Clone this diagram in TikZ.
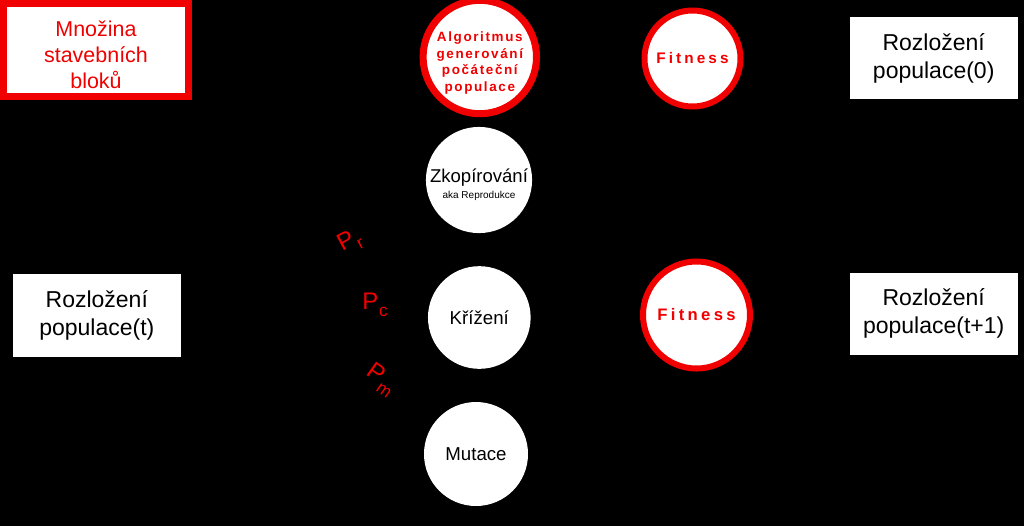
\documentclass[tikz,border=0pt]{standalone}
\usepackage{fontspec}
\setmainfont{Liberation Sans}
\newfontfamily\algfont[LetterSpace=12]{Liberation Sans}
\newfontfamily\fitfont[LetterSpace=20]{Liberation Sans}
\definecolor{myred}{RGB}{240,0,0}
\tikzset{
  redbox/.style={draw=myred, line width=5.25pt, fill=white, inner sep=0pt,
    minimum width=138.75pt, minimum height=69.75pt, text=myred, align=center,
    font=\fontsize{16.1}{19.5}\selectfont},
  popbox/.style={fill=white, inner sep=0pt, minimum width=126pt,
    minimum height=61.5pt, align=center, font=\fontsize{17.25}{21.5}\selectfont},
  wcirc/.style={circle, fill=white, inner sep=0pt, minimum size=78pt,
    align=center, font=\fontsize{14}{16}\selectfont},
  rcirc/.style={circle, draw=myred, fill=white, inner sep=0pt, text=myred,
    align=center},
  plabel/.style={text=myred, font=\fontsize{18}{18}\selectfont, inner sep=0pt}
}
\newcommand{\subtx}[1]{\kern0.5pt\raisebox{-0.3em}{\fontsize{13}{13}\selectfont #1}}
\begin{document}
\begin{tikzpicture}[x=0.75pt,y=-0.75pt]
\fill[black] (0,0) rectangle (1024,526);
\useasboundingbox (0,0) rectangle (1024,526);

% left column
\node[redbox] (mnozina) at (96,50) {\rule{0pt}{18.5pt}Množina\\stavebních\\bloků};
\node[popbox, minimum height=61.8pt] (popt) at (96.8,315.5) {Rozložení\\populace(t)};

% middle column
\node[rcirc, line width=5.25pt, minimum size=80.25pt,
      font=\algfont\bfseries\fontsize{10.1}{12.4}\selectfont] (alg) at (479.8,57)
      {\rule{0pt}{16.2pt}Algoritmus\\generování\\počáteční\\populace};
\node[wcirc, font=\fontsize{13.9}{12}\selectfont] (zkop) at (479,180)
      {\rule{0pt}{17.5pt}Zkopírování\\{\fontsize{7.5}{9}\selectfont aka Reprodukce}};
\node[wcirc, minimum size=77pt] (kriz) at (479.3,317.5) {Křížení};
\node[wcirc] (mut) at (476,454) {Mutace};

% probability labels
\node[plabel, rotate=28] (pr) at (350,242) {P\subtx{r}};
\node[plabel] (pc) at (375,305) {P\subtx{c}};
\node[plabel, rotate=-35] (pm) at (381,380) {P\subtx{m}};

% fitness
\node[rcirc, line width=4.5pt, minimum size=72pt,
      font=\fitfont\bfseries\fontsize{11.5}{13}\selectfont] (fit0) at (692.5,58.5) {Fitness};
\node[rcirc, line width=4.5pt, minimum size=80.25pt,
      font=\fitfont\bfseries\fontsize{12.5}{14}\selectfont] (fit1) at (696.5,315) {Fitness};

% right column
\node[popbox] (pop0) at (933.7,58.3) {Rozložení\\populace(0)};
\node[popbox] (pop1) at (933.7,313.5) {Rozložení\\populace(t+1)};
\end{tikzpicture}
\end{document}
